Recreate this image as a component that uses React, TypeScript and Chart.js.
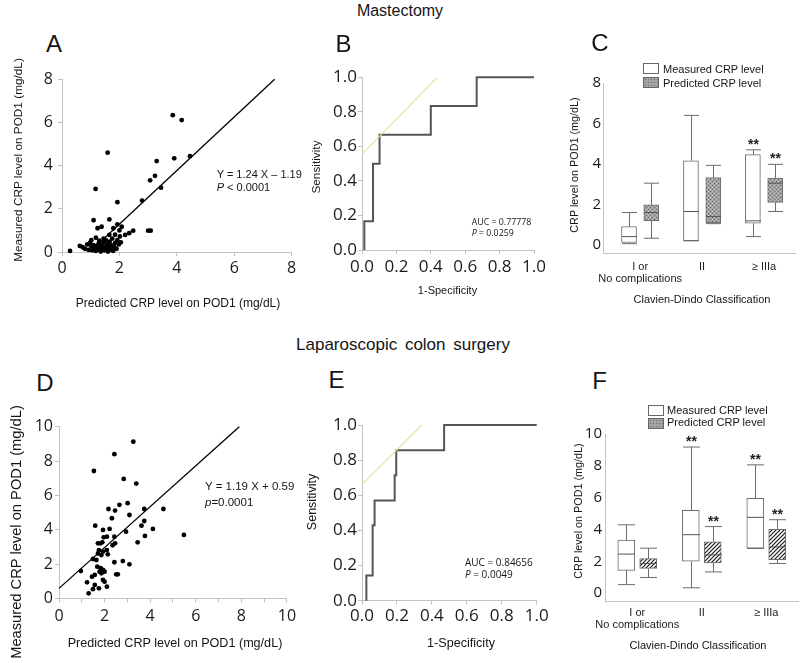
import React, { useEffect, useRef } from "react";
import { Chart, registerables } from "chart.js";

Chart.register(...registerables);

const SANS = '"Liberation Sans", Arial, Helvetica, sans-serif';
const TICK_FONT = '"Open Sans", "DejaVu Sans", sans-serif';
const AXIS = "#c2c2c2";
const INK = "#1b1b1b";

// ---------------- Panel A: mastectomy, predicted vs measured CRP ----------------
const aPredicted = [
  0.28, 0.62, 0.72, 0.8, 0.88, 0.92, 0.98, 1.02, 1.06, 1.1,
  1.14, 1.18, 1.22, 1.25, 1.28, 1.32, 1.35, 1.38, 1.42, 1.45,
  1.48, 1.5, 1.53, 1.55, 1.58, 1.6, 1.63, 1.66, 1.7, 1.72,
  1.75, 1.78, 1.82, 1.85, 1.9, 1.93, 1.98, 2.02, 2.05, 1.18,
  1.65, 1.85, 2.2, 2.34, 2.48, 3.0, 3.09, 1.79, 1.24, 1.38,
  2.08, 1.93, 2.0, 1.1, 1.65, 1.93, 2.79, 1.17, 3.45, 3.07,
  3.24, 3.3, 3.91, 4.46, 1.59, 4.17, 3.86, 1.45, 1.3, 1.02,
];
const aMeasured = [
  0.05, 0.28, 0.22, 0.15, 0.35, 0.1, 0.42, 0.25, 0.08, 0.32,
  0.18, 0.05, 0.28, 0.12, 0.4, 0.2, 0.02, 0.3, 0.15, 0.45,
  0.08, 0.25, 0.55, 0.12, 0.35, 0.02, 0.2, 0.48, 0.1, 0.3,
  0.62, 0.05, 0.22, 0.42, 0.15, 0.55, 0.35, 0.72, 0.45, 0.66,
  0.79, 0.8, 0.79, 0.87, 0.99, 0.99, 0.99, 1.1, 1.1, 1.17,
  1.17, 1.28, 1.0, 1.47, 1.51, 2.31, 2.38, 2.92, 2.98, 3.32,
  3.53, 4.21, 4.34, 4.44, 4.6, 6.11, 6.34, 0.62, 0.52, 0.55,
];
const aFitX = [0.96, 7.41];
const aFitY = [0, 8.0];
const aXTicks = [0, 2, 4, 6, 8];
const aXTickLabels = ["0", "2", "4", "6", "8"];
const aYTicks = [0, 2, 4, 6, 8];
const aYTickLabels = ["0", "2", "4", "6", "8"];

// ---------------- Panel B: mastectomy ROC ----------------
const bFpr = [0.0135, 0.0135, 0.064, 0.064, 0.102, 0.102, 0.4, 0.4, 0.6667, 0.6667, 1.0];
const bTpr = [0, 0.1667, 0.1667, 0.5, 0.5, 0.6667, 0.6667, 0.8333, 0.8333, 1.0, 1.0];
const bTangentX = [0, 0.438];
const bTangentY = [0.555, 1.0];

const rocTicks = [0, 0.2, 0.4, 0.6, 0.8, 1.0];
const rocTickLabels = ["0.0", "0.2", "0.4", "0.6", "0.8", "1.0"];

// ---------------- Panel C: mastectomy box plots ----------------
const cdCategories = [["I or", "No complications"], "II", "\u2265 IIIa"];
const cdTicks = [1, 2, 3];
const cMeasuredMin = [0.06, 0.2, 0.41];
const cMeasuredQ1 = [0.12, 0.21, 1.07];
const cMeasuredMedian = [0.41, 1.65, 1.19];
const cMeasuredQ3 = [0.9, 4.16, 4.46];
const cMeasuredMax = [1.6, 6.4, 4.7];
const cMeasuredSig = [false, false, true];
const cPredictedMin = [0.33, 1.05, 1.65];
const cPredictedQ1 = [1.2, 1.1, 2.1];
const cPredictedMedian = [1.6, 1.4, 3.05];
const cPredictedQ3 = [1.98, 3.33, 3.3];
const cPredictedMax = [3.05, 3.93, 3.98];
const cPredictedSig = [false, false, true];
const cYTicks = [0, 2, 4, 6, 8];
const cYTickLabels = ["0", "2", "4", "6", "8"];

// ---------------- Panel D: colon surgery, predicted vs measured CRP ----------------
const dPredicted = [
  3.26, 2.43, 1.53, 2.84, 3.39, 2.17, 2.46, 2.65, 3.01, 3.74,
  4.58, 3.09, 2.32, 1.59, 1.93, 2.22, 2.94, 3.62, 3.74, 3.77,
  3.45, 4.12, 5.48, 1.96, 2.1, 1.71, 1.81, 1.9, 2.43, 2.46,
  1.75, 1.93, 2.1, 2.14, 1.71, 1.86, 1.49, 1.64, 2.43, 2.8,
  3.09, 1.68, 1.83, 1.93, 1.78, 1.86, 2.0, 1.45, 1.57, 2.51,
  2.58, 1.93, 2.0, 1.23, 0.96, 1.57, 2.1, 1.49, 1.75, 1.3,
  2.35,
];
const dMeasured = [
  9.13, 8.4, 7.42, 6.96, 6.69, 5.21, 5.12, 5.45, 5.55, 5.21,
  5.21, 4.86, 4.67, 4.24, 3.99, 4.05, 3.89, 4.24, 4.51, 3.64,
  3.27, 4.05, 3.7, 3.56, 3.6, 3.21, 3.21, 3.27, 3.6, 3.21,
  2.82, 2.73, 2.82, 2.57, 2.62, 2.53, 2.3, 2.24, 2.11, 2.18,
  1.99, 1.85, 1.76, 1.66, 1.56, 1.47, 1.56, 1.27, 1.37, 1.41,
  1.41, 1.08, 0.98, 0.94, 1.6, 0.79, 0.69, 0.54, 0.59, 0.3,
  3.1,
];
const dFitX = [0, 7.91];
const dFitY = [0.59, 10.0];
const dXTicks = [0, 1, 2, 3, 4, 5, 6, 7, 8, 9, 10];
const dXTickLabels = ["0", "", "2", "", "4", "", "6", "", "8", "", "10"];
const dYTicks = [0, 2, 4, 6, 8, 10];
const dYTickLabels = ["0", "2", "4", "6", "8", "10"];

// ---------------- Panel E: colon surgery ROC ----------------
const eFpr = [0.025, 0.025, 0.061, 0.061, 0.072, 0.072, 0.187, 0.187, 0.196, 0.196, 0.47, 0.47, 1.0];
const eTpr = [0, 0.143, 0.143, 0.429, 0.429, 0.571, 0.571, 0.714, 0.714, 0.857, 0.857, 1.0, 1.0];
const eTangentX = [0, 0.343];
const eTangentY = [0.662, 1.0];

// ---------------- Panel F: colon surgery box plots ----------------
const fMeasuredMin = [0.53, 0.33, 2.8];
const fMeasuredQ1 = [1.43, 2.0, 2.82];
const fMeasuredMedian = [2.45, 3.67, 4.76];
const fMeasuredQ3 = [3.33, 5.2, 5.96];
const fMeasuredMax = [4.29, 9.18, 8.06];
const fMeasuredSig = [false, true, true];
const fPredictedMin = [0.98, 1.33, 1.86];
const fPredictedQ1 = [1.55, 1.9, 2.1];
const fPredictedMedian = [1.86, 2.4, 2.9];
const fPredictedQ3 = [2.16, 3.22, 4.0];
const fPredictedMax = [2.82, 4.18, 4.61];
const fPredictedSig = [false, true, true];
const fYTicks = [0, 2, 4, 6, 8, 10];
const fYTickLabels = ["0", "2", "4", "6", "8", "10"];

const seriesNames = ["Measured CRP level", "Predicted CRP level"];

// ---------------- helpers ----------------
const baseOptions = {
  responsive: false,
  animation: false,
  devicePixelRatio: 1,
  events: [],
  plugins: { legend: { display: false }, tooltip: { enabled: false } },
};

function axis(o: any) {
  return {
    type: "linear",
    min: o.min,
    max: o.max,
    offset: false,
    afterBuildTicks: (s: any) => {
      s.ticks = o.ticks.map((v: number) => ({ value: v }));
    },
    afterFit: (s: any) => {
      if (o.horizontal) s.height = o.size;
      else s.width = o.size;
    },
    grid: {
      display: o.tickLen > 0,
      drawOnChartArea: false,
      drawTicks: true,
      tickLength: o.tickLen,
      color: AXIS,
      lineWidth: 1,
      offset: false,
    },
    border: { display: true, color: AXIS, width: 1 },
    ticks: {
      autoSkip: false,
      maxRotation: 0,
      minRotation: 0,
      padding: o.pad,
      color: INK,
      font: { family: o.family ?? TICK_FONT, size: o.font, lineHeight: o.lh ?? 1.2 },
      callback: (_v: any, i: number) => o.labels[i],
    },
  };
}

function pts(xs: number[], ys: number[]) {
  return xs.map((x, i) => ({ x, y: ys[i] }));
}

function makeStipple(): any {
  const c = document.createElement("canvas");
  c.width = 4;
  c.height = 4;
  const g = c.getContext("2d");
  if (!g) return "#9a9a9a";
  g.fillStyle = "#a2a2a2";
  g.fillRect(0, 0, 4, 4);
  g.fillStyle = "#666666";
  g.fillRect(0, 0, 1, 1);
  g.fillRect(2, 2, 1, 1);
  g.fillStyle = "#c8c8c8";
  g.fillRect(2, 0, 1, 1);
  g.fillRect(0, 2, 1, 1);
  return g.createPattern(c, "repeat") ?? "#9a9a9a";
}

function makeHatch(): any {
  const s = 4;
  const c = document.createElement("canvas");
  c.width = s;
  c.height = s;
  const g = c.getContext("2d");
  if (!g) return "#777";
  g.fillStyle = "#ffffff";
  g.fillRect(0, 0, s, s);
  g.strokeStyle = "#1a1a1a";
  g.lineWidth = 1.2;
  g.beginPath();
  g.moveTo(0, s);
  g.lineTo(s, 0);
  g.moveTo(-1, 1);
  g.lineTo(1, -1);
  g.moveTo(s - 1, s + 1);
  g.lineTo(s + 1, s - 1);
  g.stroke();
  return g.createPattern(c, "repeat") ?? "#777";
}

const boxWhiskers = {
  id: "boxWhiskers",
  afterDatasetsDraw(chart: any) {
    const ctx = chart.ctx;
    const ys = chart.scales.y;
    chart.data.datasets.forEach((ds: any, di: number) => {
      const st = ds.stats;
      if (!st) return;
      const meta = chart.getDatasetMeta(di);
      meta.data.forEach((bar: any, j: number) => {
        const p = bar.getProps(["x", "width"], true);
        const x = Math.round(p.x) + 0.5;
        const h = p.width / 2;
        const yMin = ys.getPixelForValue(st.min[j]);
        const yMax = ys.getPixelForValue(st.max[j]);
        const yQ1 = ys.getPixelForValue(st.q1[j]);
        const yQ3 = ys.getPixelForValue(st.q3[j]);
        const yMed = ys.getPixelForValue(st.median[j]);
        ctx.save();
        ctx.strokeStyle = ds.borderColor;
        ctx.lineWidth = 1;
        ctx.beginPath();
        ctx.moveTo(x, yQ3);
        ctx.lineTo(x, yMax);
        ctx.moveTo(x - h, yMax);
        ctx.lineTo(x + h, yMax);
        ctx.moveTo(x, yQ1);
        ctx.lineTo(x, yMin);
        ctx.moveTo(x - h, yMin);
        ctx.lineTo(x + h, yMin);
        ctx.stroke();
        ctx.beginPath();
        ctx.strokeStyle = "#555";
        ctx.moveTo(x - h, yMed);
        ctx.lineTo(x + h, yMed);
        ctx.stroke();
        if (st.sig[j]) {
          ctx.fillStyle = "#222";
          ctx.font = 'bold 14px "Liberation Sans", Arial, sans-serif';
          ctx.textAlign = "center";
          ctx.textBaseline = "alphabetic";
          ctx.fillText("**", x, yMax - 1);
        }
        ctx.restore();
      });
    });
  },
};

// ---------------- chart builders ----------------
function regressionConfig(o: any) {
  return {
    type: "scatter",
    data: {
      datasets: [
        {
          data: pts(o.px, o.my),
          pointRadius: 2.4,
          pointBackgroundColor: "#000",
          pointBorderWidth: 0,
          showLine: false,
          clip: false,
        },
        {
          data: pts(o.fitX, o.fitY),
          showLine: true,
          borderColor: "#000",
          borderWidth: 1.3,
          pointRadius: 0,
          clip: false,
        },
      ],
    },
    options: {
      ...baseOptions,
      layout: { padding: { top: o.padTop, right: o.padRight, left: 0, bottom: 0 } },
      scales: {
        x: axis({ ...o.x, horizontal: true }),
        y: axis(o.y),
      },
    },
  };
}

function rocConfig(o: any) {
  return {
    type: "scatter",
    data: {
      datasets: [
        {
          data: pts(o.tx, o.ty),
          showLine: true,
          borderColor: "#e6e2a2",
          borderWidth: 1.2,
          pointRadius: 0,
          clip: false,
        },
        {
          data: pts(o.fpr, o.tpr),
          showLine: true,
          borderColor: "#555555",
          borderWidth: 2,
          pointRadius: 0,
          clip: false,
        },
      ],
    },
    options: {
      ...baseOptions,
      layout: { padding: { top: o.padTop, right: o.padRight, left: 0, bottom: 0 } },
      scales: {
        x: axis({ min: 0, max: 1, ticks: rocTicks, labels: rocTickLabels, font: 17, tickLen: 4, pad: o.xPad, size: o.xSize, horizontal: true }),
        y: axis({ min: 0, max: 1, ticks: rocTicks, labels: rocTickLabels, font: 17, tickLen: 4, pad: 1, size: o.ySize }),
      },
    },
  };
}

function boxConfig(o: any) {
  const mk = (name: string, s: any, off: number, fill: any) => ({
    label: name,
    data: s.q1.map((q1: number, i: number) => ({ x: cdTicks[i] + off, y: [q1, s.q3[i]] })),
    backgroundColor: fill,
    borderColor: "#6c6c6c",
    borderWidth: 1,
    borderSkipped: false,
    barThickness: o.barW,
    grouped: false,
    stats: s,
    clip: false,
  });
  return {
    type: "bar",
    data: {
      datasets: [
        mk(seriesNames[0], o.measured, -o.off, "#ffffff"),
        mk(seriesNames[1], o.predicted, o.off, o.fill),
      ],
    },
    options: {
      ...baseOptions,
      layout: { padding: { top: o.padTop, right: o.padRight, left: 0, bottom: 0 } },
      scales: {
        x: axis({
          min: o.xMin,
          max: 3.5,
          ticks: cdTicks,
          labels: cdCategories,
          font: 11,
          lh: 1.1,
          family: SANS,
          tickLen: 0,
          pad: o.xPad,
          size: o.xSize,
          horizontal: true,
        }),
        y: axis({ min: o.yMin, max: o.yMax, ticks: o.yTicks, labels: o.yLabels, font: 15, tickLen: 0, pad: o.yPad, size: o.ySize }),
      },
    },
    plugins: [boxWhiskers],
  };
}

const buildA = () =>
  regressionConfig({
    px: aPredicted,
    my: aMeasured,
    fitX: aFitX,
    fitY: aFitY,
    padTop: 19.3,
    padRight: 8.4,
    x: { min: 0, max: 8, ticks: aXTicks, labels: aXTickLabels, font: 16, tickLen: 4, pad: 2.4, size: 70 },
    y: { min: 0, max: 8, ticks: aYTicks, labels: aYTickLabels, font: 16, tickLen: 4, pad: 5, size: 62 },
  });

const buildD = () =>
  regressionConfig({
    px: dPredicted,
    my: dMeasured,
    fitX: dFitX,
    fitY: dFitY,
    padTop: 26.7,
    padRight: 11,
    x: { min: 0, max: 10, ticks: dXTicks, labels: dXTickLabels, font: 16, tickLen: 4, pad: 3.9, size: 64.5 },
    y: { min: 0, max: 10, ticks: dYTicks, labels: dYTickLabels, font: 16, tickLen: 4, pad: 2, size: 59 },
  });

const buildB = () =>
  rocConfig({ fpr: bFpr, tpr: bTpr, tx: bTangentX, ty: bTangentY, padTop: 22.3, padRight: 16, xPad: 2.5, xSize: 55, ySize: 62 });

const buildE = () =>
  rocConfig({ fpr: eFpr, tpr: eTpr, tx: eTangentX, ty: eTangentY, padTop: 25, padRight: 13.3, xPad: 1.3, xSize: 62.3, ySize: 62 });

const buildC = () =>
  boxConfig({
    measured: { min: cMeasuredMin, q1: cMeasuredQ1, median: cMeasuredMedian, q3: cMeasuredQ3, max: cMeasuredMax, sig: cMeasuredSig },
    predicted: { min: cPredictedMin, q1: cPredictedQ1, median: cPredictedMedian, q3: cPredictedQ3, max: cPredictedMax, sig: cPredictedSig },
    fill: makeStipple(),
    off: 0.18,
    barW: 15,
    xMin: 0.4,
    yMin: -0.4,
    yMax: 8,
    yTicks: cYTicks,
    yLabels: cYTickLabels,
    padTop: 28,
    padRight: 5,
    xPad: 8,
    xSize: 57,
    yPad: 2,
    ySize: 53,
  });

const buildF = () =>
  boxConfig({
    measured: { min: fMeasuredMin, q1: fMeasuredQ1, median: fMeasuredMedian, q3: fMeasuredQ3, max: fMeasuredMax, sig: fMeasuredSig },
    predicted: { min: fPredictedMin, q1: fPredictedQ1, median: fPredictedMedian, q3: fPredictedQ3, max: fPredictedMax, sig: fPredictedSig },
    fill: makeHatch(),
    off: 0.17,
    barW: 17,
    xMin: 0.5,
    yMin: -0.5,
    yMax: 10,
    yTicks: fYTicks,
    yLabels: fYTickLabels,
    padTop: 34,
    padRight: 1.5,
    xPad: 6.3,
    xSize: 62,
    yPad: 3,
    ySize: 55,
  });

// ---------------- components ----------------
function Panel({ l, t, w, h, build }: any) {
  const ref = useRef<HTMLCanvasElement | null>(null);
  useEffect(() => {
    if (!ref.current) return;
    const chart = new Chart(ref.current, build() as any);
    return () => chart.destroy();
  }, [build]);
  return (
    <canvas
      ref={ref}
      width={w}
      height={h}
      style={{ position: "absolute", left: l, top: t, width: w, height: h, display: "block" }}
    />
  );
}

function Txt({ x, y, size, children, rot, anchor, family, style }: any) {
  const tx = anchor === "start" ? "0" : "-50%";
  return (
    <div
      style={{
        position: "absolute",
        left: x,
        top: y,
        fontSize: size,
        fontFamily: family ?? SANS,
        lineHeight: 1,
        whiteSpace: "nowrap",
        color: "#151515",
        transform: `translate(${tx},-50%)${rot ? " rotate(-90deg)" : ""}`,
        ...style,
      }}
    >
      {children}
    </div>
  );
}

function LegendBox({ x, y, fill }: any) {
  return (
    <div
      style={{
        position: "absolute",
        left: x,
        top: y,
        width: 14,
        height: 9,
        border: "1px solid #666",
        background: fill ? "#a4a4a4" : "#fff",
        backgroundImage: fill ? "radial-gradient(#6a6a6a 0.7px, transparent 0.9px)" : undefined,
        backgroundSize: fill ? "3px 3px" : undefined,
      }}
    />
  );
}

const It = ({ children }: any) => <span style={{ fontStyle: "italic" }}>{children}</span>;

export default function App() {
  return (
    <div
      style={{
        position: "absolute",
        left: 0,
        top: 0,
        width: 800,
        height: 663,
        background: "#fff",
        overflow: "hidden",
        fontFamily: SANS,
      }}
    >
      <Panel l={0} t={60} w={300} h={262} build={buildA} />
      <Panel l={300} t={55} w={250} h={250} build={buildB} />
      <Panel l={550} t={55} w={250} h={255} build={buildC} />
      <Panel l={0} t={400} w={300} h={263} build={buildD} />
      <Panel l={300} t={400} w={250} h={263} build={buildE} />
      <Panel l={550} t={400} w={250} h={263} build={buildF} />

      {/* section headings */}
      <Txt x={400} y={11} size={16}>Mastectomy</Txt>
      <Txt x={403} y={344} size={17} style={{ wordSpacing: "3px" }}>Laparoscopic colon surgery</Txt>

      {/* panel letters */}
      <Txt x={54} y={43.5} size={24}>A</Txt>
      <Txt x={343.5} y={44} size={24}>B</Txt>
      <Txt x={600} y={42.5} size={24}>C</Txt>
      <Txt x={45} y={382.5} size={24}>D</Txt>
      <Txt x={336.5} y={380} size={24}>E</Txt>
      <Txt x={599.5} y={381} size={24}>F</Txt>

      {/* A */}
      <Txt x={19} y={160} size={11.8} rot>Measured CRP level on POD1 (mg/dL)</Txt>
      <Txt x={178} y={303} size={12}>Predicted CRP level on POD1 (mg/dL)</Txt>
      <Txt x={216.7} y={174} size={11} anchor="start">Y = 1.24 X – 1.19</Txt>
      <Txt x={216.7} y={186.7} size={11} anchor="start"><It>P</It> &lt; 0.0001</Txt>

      {/* B */}
      <Txt x={317} y={167} size={11.8} rot>Sensitivity</Txt>
      <Txt x={447.5} y={290} size={11}>1-Specificity</Txt>
      <Txt x={471.7} y={221.7} size={8.8} anchor="start" family={TICK_FONT}>AUC = 0.77778</Txt>
      <Txt x={471.7} y={233.3} size={8.8} anchor="start" family={TICK_FONT}><It>P</It> = 0.0259</Txt>

      {/* C */}
      <Txt x={574} y={164.5} size={10.8} rot>CRP level on POD1 (mg/dL)</Txt>
      <Txt x={702} y={299} size={11}>Clavien-Dindo Classification</Txt>
      <LegendBox x={643} y={63} />
      <LegendBox x={643} y={76.5} fill />
      <Txt x={663} y={69} size={11} anchor="start">{seriesNames[0]}</Txt>
      <Txt x={663} y={82.5} size={11} anchor="start">{seriesNames[1]}</Txt>

      {/* D */}
      <Txt x={16} y={532} size={14.7} rot>Measured CRP level on POD1 (mg/dL)</Txt>
      <Txt x={175} y={643} size={12.6}>Predicted CRP level on POD1 (mg/dL)</Txt>
      <Txt x={205} y={486.7} size={11.5} anchor="start">Y = 1.19 X + 0.59</Txt>
      <Txt x={205} y={503.3} size={11.5} anchor="start"><It>p</It>=0.0001</Txt>

      {/* E */}
      <Txt x={312} y={502} size={12.5} rot>Sensitivity</Txt>
      <Txt x={461} y={643} size={12.6}>1-Specificity</Txt>
      <Txt x={465} y={561.7} size={10} anchor="start" family={TICK_FONT}>AUC = 0.84656</Txt>
      <Txt x={465} y={574.3} size={10} anchor="start" family={TICK_FONT}><It>P</It> = 0.0049</Txt>

      {/* F */}
      <Txt x={577.5} y={510.5} size={10.8} rot>CRP level on POD1 (mg/dL)</Txt>
      <Txt x={698} y={645} size={11}>Clavien-Dindo Classification</Txt>
      <LegendBox x={648} y={405} />
      <LegendBox x={648} y={417.5} fill />
      <Txt x={667} y={409.5} size={11} anchor="start">{seriesNames[0]}</Txt>
      <Txt x={667} y={422} size={11} anchor="start">{seriesNames[1]}</Txt>
    </div>
  );
}
